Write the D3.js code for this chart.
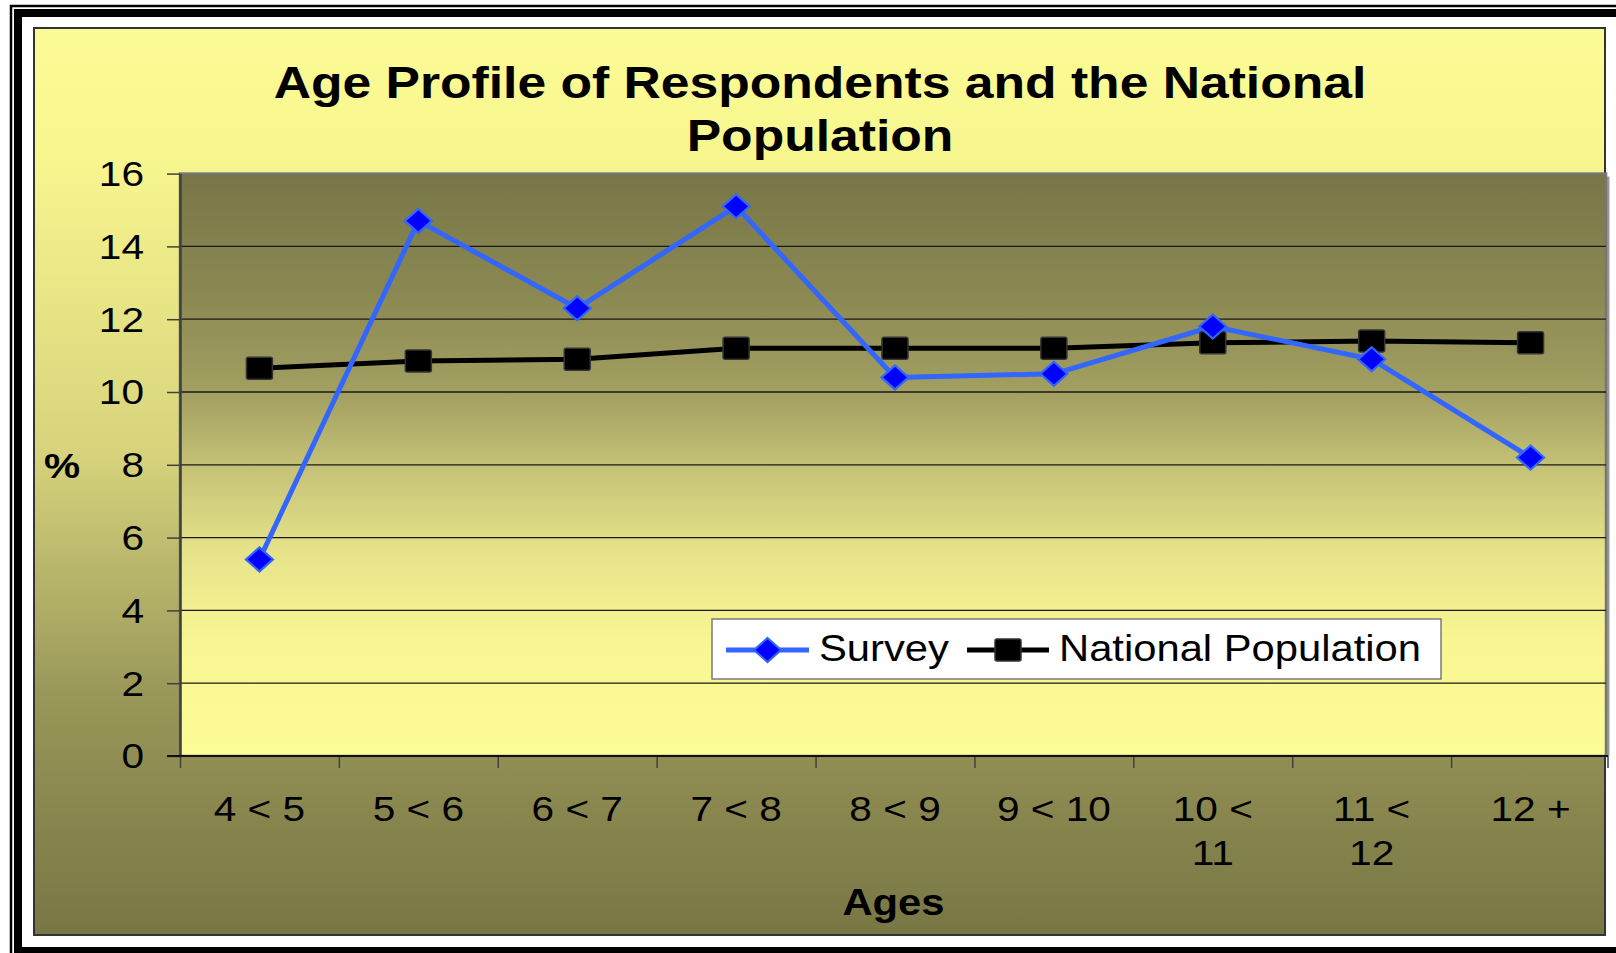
<!DOCTYPE html>
<html><head><meta charset="utf-8">
<script src="https://cdn.jsdelivr.net/npm/d3@7"></script>
<style>html,body{margin:0;padding:0;background:#fff;overflow:hidden}</style>
</head><body>
<svg id="chart" width="1616" height="953"></svg>
<script>
// ---------- data ----------
const categories = ["4 < 5", "5 < 6", "6 < 7", "7 < 8", "8 < 9", "9 < 10", "10 < 11", "11 < 12", "12 +"];
const surveyValues = [5.4, 14.7, 12.3, 15.1, 10.4, 10.5, 11.8, 10.9, 8.2];
const nationalValues = [10.65, 10.85, 10.9, 11.2, 11.2, 11.2, 11.35, 11.4, 11.35];
const yTickValues = [0, 2, 4, 6, 8, 10, 12, 14, 16];
const seriesNames = ["Survey", "National Population"];
const titleLines = ["Age Profile of Respondents and the National", "Population"];
const xAxisTitle = "Ages";
const yAxisTitle = "%";

// ---------- setup ----------
const W = 1616, H = 953;
const SX = 1.16; // horizontal stretch of the original picture
const FONT = '"Liberation Sans", Arial, Helvetica, sans-serif';
const svg = d3.select("#chart");
const defs = svg.append("defs");

function grad(id, stops) {
  const g = defs.append("linearGradient").attr("id", id)
    .attr("x1", 0).attr("y1", 0).attr("x2", 0).attr("y2", 1);
  stops.forEach(s => g.append("stop").attr("offset", s[0]).attr("stop-color", s[1]));
}
grad("chartBg", [[0, "#FCFC96"], [0.15, "#F7F58E"], [0.47, "#D6D37C"], [0.74, "#989658"], [1, "#787644"]]);
grad("plotBg", [[0, "#787646"], [0.2, "#8A8852"], [0.38, "#A3A062"], [0.5, "#C4C176"], [0.65, "#E6E38A"], [0.8, "#F8F692"], [1, "#FDFD98"]]);

svg.append("rect").attr("width", W).attr("height", H).attr("fill", "#fff");
// double frame
svg.append("rect").attr("x", 11).attr("y", 6).attr("width", 1660).attr("height", 1000)
  .attr("fill", "none").attr("stroke", "#000").attr("stroke-width", 2.5);
svg.append("rect").attr("x", 18).attr("y", 13).attr("width", 1640).attr("height", 938)
  .attr("fill", "none").attr("stroke", "#000").attr("stroke-width", 8);
// chart area
svg.append("rect").attr("x", 34).attr("y", 28).attr("width", 1571).attr("height", 907)
  .attr("fill", "url(#chartBg)").attr("stroke", "#333").attr("stroke-width", 2);

// ---------- scales ----------
const plotL = 180, plotR = 1607, plotT = 173.6, plotB = 756;
const x = d3.scaleBand().domain(categories).range([plotL, 1610]).padding(0);
const xb = d3.scaleLinear().domain([0, categories.length]).range(x.range());
const y = d3.scaleLinear().domain([0, 16]).range([plotB, plotT]);
const cx = c => x(c) + x.bandwidth() / 2;

// plot area
svg.append("rect").attr("x", plotR - 1).attr("y", plotT + 3).attr("width", 3.5).attr("height", plotB - plotT - 3)
  .attr("fill", "#9a9a9a");
svg.append("rect").attr("x", plotL).attr("y", plotT).attr("width", plotR - 1 - plotL).attr("height", plotB - plotT)
  .attr("fill", "url(#plotBg)").attr("stroke", "#767676").attr("stroke-width", 2.5);

// gridlines
svg.append("g").selectAll("line").data(yTickValues.filter(v => v > 0 && v < 16)).join("line")
  .attr("x1", plotL).attr("x2", plotR - 1).attr("y1", d => y(d)).attr("y2", d => y(d))
  .attr("stroke", "#1a1a1a").attr("stroke-width", 1.3);

// y axis
const yAxis = svg.append("g").attr("transform", `translate(${plotL},0)`)
  .call(d3.axisLeft(y).tickValues(yTickValues).tickSize(13).tickSizeOuter(0).tickFormat(d3.format("d")));
yAxis.select(".domain").attr("stroke", "#404040").attr("stroke-width", 2.5);
yAxis.selectAll(".tick line").attr("stroke", "#404040").attr("stroke-width", 1.5);
yAxis.selectAll(".tick text").attr("x", -36 / SX).attr("dy", "0.34em")
  .attr("transform", `scale(${SX},1)`).attr("fill", "#000")
  .style("font-family", FONT).style("font-size", "35px");

// x axis boundary ticks
const xTicks = svg.append("g").attr("transform", `translate(0,${plotB})`)
  .call(d3.axisBottom(xb).tickValues(d3.range(categories.length)).tickSize(12).tickSizeOuter(0).tickFormat(""));
xTicks.select(".domain").remove();
xTicks.selectAll(".tick line").attr("stroke", "#404040").attr("stroke-width", 1.5);
svg.append("line").attr("x1", plotR + 1).attr("x2", plotR + 1).attr("y1", plotB).attr("y2", plotB + 12)
  .attr("stroke", "#404040").attr("stroke-width", 1.5);
svg.append("line").attr("x1", plotL - 13).attr("x2", plotR + 1).attr("y1", plotB).attr("y2", plotB)
  .attr("stroke", "#111").attr("stroke-width", 2);

// x axis labels
const xLab = svg.append("g").attr("transform", `translate(0,${plotB})`)
  .call(d3.axisBottom(x).tickSize(0).tickPadding(0));
xLab.select(".domain").remove();
xLab.selectAll(".tick text").each(function (d) {
  const t = d3.select(this);
  t.text(null).attr("y", 65).attr("dy", 0).attr("transform", `scale(${SX},1)`)
    .attr("fill", "#000").style("font-family", FONT).style("font-size", "35px");
  let lines = [d];
  if (d.length > 6) { const k = d.lastIndexOf(" "); lines = [d.slice(0, k), d.slice(k + 1)]; }
  lines.forEach((ln, i) => t.append("tspan").attr("x", 0).attr("dy", i === 0 ? 0 : 44.5).text(ln));
});

// ---------- series ----------
const line = d3.line().x((d, i) => cx(categories[i])).y(d => y(d));
svg.append("path").datum(nationalValues).attr("d", line).attr("fill", "none")
  .attr("stroke", "#000").attr("stroke-width", 5).attr("stroke-linejoin", "round");
svg.append("path").datum(surveyValues).attr("d", line).attr("fill", "none")
  .attr("stroke", "#3366FF").attr("stroke-width", 5).attr("stroke-linejoin", "round");

const diamondPath = "M0,-12 L13.5,0 L0,12 L-13.5,0 Z";
function square(sel) {
  sel.attr("x", -13).attr("y", -11).attr("width", 26).attr("height", 22).attr("rx", 2)
    .attr("fill", "#000").attr("stroke", "#333").attr("stroke-width", 1.5);
}
function diamond(sel) {
  sel.attr("d", diamondPath).attr("fill", "#0000FF").attr("stroke", "#3366FF").attr("stroke-width", 2.2);
}
svg.append("g").selectAll("rect").data(nationalValues).join("rect")
  .attr("transform", (d, i) => `translate(${cx(categories[i])},${y(d)})`).call(square);
svg.append("g").selectAll("path").data(surveyValues).join("path")
  .attr("transform", (d, i) => `translate(${cx(categories[i])},${y(d)})`).call(diamond);

// ---------- legend ----------
const lg = svg.append("g");
lg.append("rect").attr("x", 712).attr("y", 619).attr("width", 729).attr("height", 60)
  .attr("fill", "#fff").attr("stroke", "#7a7a7a").attr("stroke-width", 1.5);
const legendItems = [
  { name: seriesNames[0], x0: 726, x1: 809, tx: 819, color: "#3366FF", marker: "diamond" },
  { name: seriesNames[1], x0: 967, x1: 1049, tx: 1059, color: "#000", marker: "square" }
];
const ly = 650;
legendItems.forEach(it => {
  lg.append("line").attr("x1", it.x0).attr("x2", it.x1).attr("y1", ly).attr("y2", ly)
    .attr("stroke", it.color).attr("stroke-width", 5);
  const mx = (it.x0 + it.x1) / 2;
  if (it.marker === "diamond") lg.append("path").attr("transform", `translate(${mx},${ly})`).call(diamond);
  else lg.append("rect").attr("transform", `translate(${mx},${ly})`).call(square);
  lg.append("text").attr("transform", `translate(${it.tx},661) scale(${SX},1)`)
    .style("font-family", FONT).style("font-size", "36px").attr("fill", "#000").text(it.name);
});

// ---------- titles ----------
titleLines.forEach((t, i) => {
  svg.append("text").attr("transform", `translate(820,${98 + i * 53}) scale(${SX},1)`)
    .attr("text-anchor", "middle").style("font-family", FONT).style("font-weight", "bold")
    .style("font-size", "44.5px").attr("fill", "#000").text(t);
});
svg.append("text").attr("transform", `translate(${(plotL + plotR) / 2},915) scale(${SX},1)`)
  .attr("text-anchor", "middle").style("font-family", FONT).style("font-weight", "bold")
  .style("font-size", "36px").attr("fill", "#000").text(xAxisTitle);
svg.append("text").attr("transform", `translate(62,478) scale(${SX},1)`)
  .attr("text-anchor", "middle").style("font-family", FONT).style("font-weight", "bold")
  .style("font-size", "35px").attr("fill", "#000").text(yAxisTitle);
</script>
</body></html>
